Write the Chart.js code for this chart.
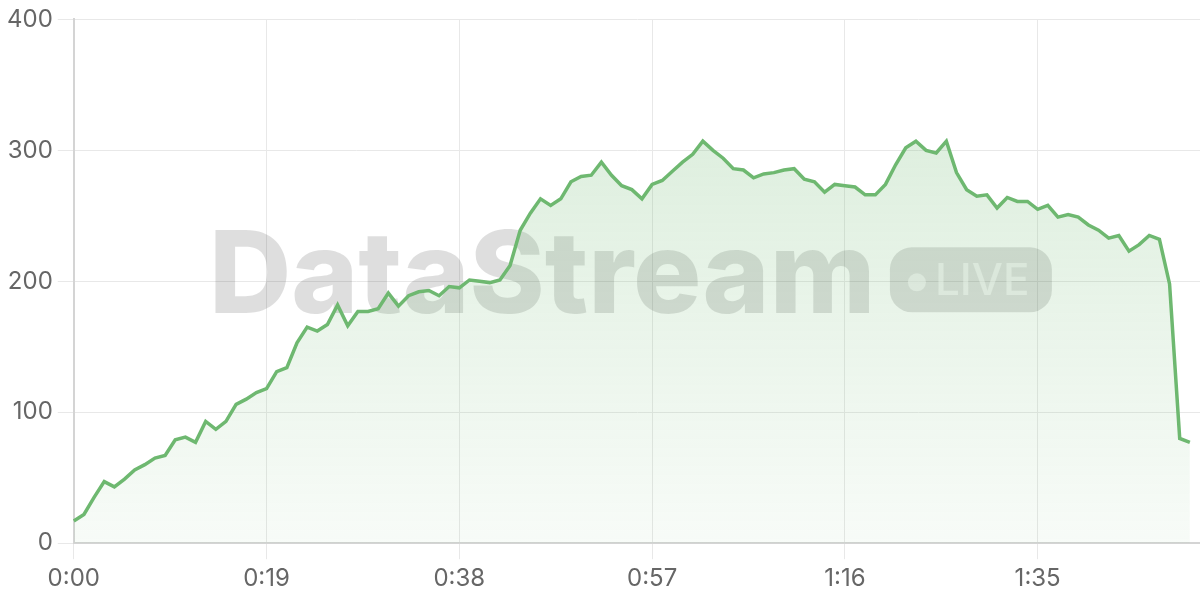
<!DOCTYPE html>
<html>
<head>
<meta charset="utf-8">
<script src="https://cdn.jsdelivr.net/npm/chart.js@4/dist/chart.umd.min.js"></script>
<style>
    html, body { margin: 0; padding: 0; background: #fff; }
    .chart-box { width: 1200px; height: 600px; position: relative; }
</style>
</head>
<body>
<div class="chart-box"><canvas id="streamChart"></canvas></div>
<script>
// ===== DADOS =====
const totalSeconds = 112; // 0:00 .. 1:51 (last slot is empty)
const tickLabels = ['0:00', '0:19', '0:38', '0:57', '1:16', '1:35'];
const viewers = [
    17, 22, 35, 47, 43, 49, 56, 60, 65, 67,
    79, 81, 77, 93, 87, 93, 106, 110, 115, 118,
    131, 134, 153, 165, 162, 167, 182, 166, 177, 177,
    179, 191, 181, 189, 192, 193, 189, 196, 195, 201,
    200, 199, 201, 212, 239, 252, 263, 258, 263, 276,
    280, 281, 291, 281, 273, 270, 263, 274, 277, 284,
    291, 297, 307, 300, 294, 286, 285, 279, 282, 283,
    285, 286, 278, 276, 268, 274, 273, 272, 266, 266,
    274, 289, 302, 307, 300, 298, 307, 283, 270, 265,
    266, 256, 264, 261, 261, 255, 258, 249, 251, 249,
    243, 239, 233, 235, 223, 228, 235, 232, 198, 80,
    77
];
const yTicks = { min: 0, max: 400, step: 100 };

function formatTime(s) {
    const m = Math.floor(s / 60);
    const r = s % 60;
    return m + ':' + String(r).padStart(2, '0');
}
const categories = Array.from({ length: totalSeconds }, (_, s) => formatTime(s));

const lineColor = 'rgb(110, 184, 112)';

// ===== MARCA D'ÁGUA =====
const watermarkPlugin = {
    id: 'watermark',
    beforeDatasetsDraw(chart) {
        const { ctx, chartArea } = chart;
        const cx = (chartArea.left + chartArea.right) / 2;
        const cy = (chartArea.top + chartArea.bottom) / 2;

        ctx.save();
        ctx.font = '800 114px Inter';
        ctx.fillStyle = 'rgba(0, 0, 0, 0.13)';
        ctx.textBaseline = 'alphabetic';
        ctx.fillText('DataStream', cx - 428, cy + 32);

        // pílula "LIVE"
        const pillW = 162, pillH = 65;
        const px = cx + 253;
        const py = cy - 34;
        ctx.beginPath();
        ctx.roundRect(px, py, pillW, pillH, 22);
        ctx.fill();

        ctx.fillStyle = 'rgba(255, 255, 255, 0.55)';
        ctx.beginPath();
        ctx.arc(px + 27, py + 35, 9, 0, Math.PI * 2);
        ctx.fill();
        ctx.font = '500 44px Inter';
        ctx.fillText('LIVE', px + 45, py + 48);
        ctx.restore();
    }
};

// ===== GRÁFICO =====
function initChart() {
    const canvas = document.getElementById('streamChart');

    new Chart(canvas, {
        type: 'line',
        data: {
            labels: categories,
            datasets: [{
                data: viewers,
                borderColor: lineColor,
                borderWidth: 3.5,
                pointRadius: 0,
                tension: 0,
                fill: true,
                backgroundColor: (context) => {
                    const area = context.chart.chartArea;
                    if (!area) return 'rgba(110, 184, 112, 0.15)';
                    const g = context.chart.ctx.createLinearGradient(0, area.top, 0, area.bottom);
                    g.addColorStop(0, 'rgba(110, 184, 112, 0.28)');
                    g.addColorStop(1, 'rgba(110, 184, 112, 0.05)');
                    return g;
                }
            }]
        },
        options: {
            responsive: true,
            maintainAspectRatio: false,
            animation: false,
            layout: { padding: { left: 2, top: 9, right: 0, bottom: 2 } },
            plugins: {
                legend: { display: false },
                tooltip: { enabled: false }
            },
            scales: {
                x: {
                    grid: { color: '#e8e8e8', lineWidth: 1, tickLength: 16 },
                    border: { color: '#d4d4d4', width: 2 },
                    ticks: {
                        autoSkip: false,
                        maxRotation: 0,
                        padding: 5,
                        color: '#666',
                        font: { family: 'Inter', size: 24 },
                        callback: function(value) {
                            const label = this.getLabelForValue(value);
                            return tickLabels.includes(label) ? label : null;
                        }
                    }
                },
                y: {
                    min: yTicks.min,
                    max: yTicks.max,
                    grid: { color: '#e8e8e8', lineWidth: 1, tickLength: 16 },
                    border: { color: '#d4d4d4', width: 2 },
                    ticks: {
                        stepSize: yTicks.step,
                        padding: 5,
                        color: '#666',
                        font: { family: 'Inter', size: 24 }
                    }
                }
            }
        },
        plugins: [watermarkPlugin]
    });
}

document.addEventListener('DOMContentLoaded', initChart);
</script>
</body>
</html>
